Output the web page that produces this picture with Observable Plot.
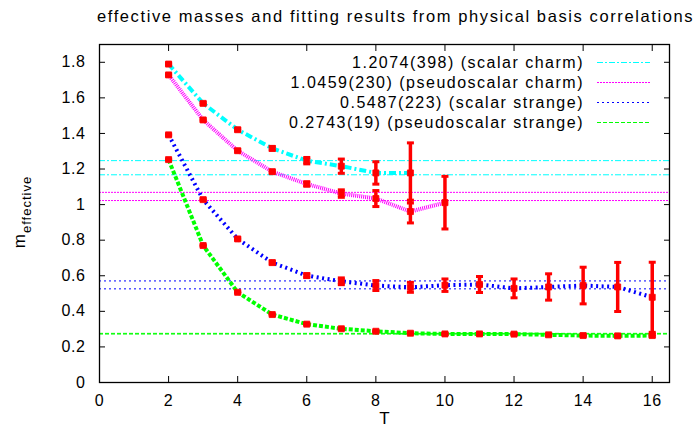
<!DOCTYPE html>
<html>
<head>
<meta charset="utf-8">
<script src="https://cdn.jsdelivr.net/npm/d3@7"></script>
<script src="https://cdn.jsdelivr.net/npm/@observablehq/plot@0.6"></script>
<style>
  html, body { margin: 0; padding: 0; background: white; }
  #chart { width: 694px; height: 435px; }
</style>
</head>
<body>
<div id="chart"></div>
<script>
// ---- data ----
const titleText = "effective masses and fitting results from physical basis correlations";
const xTicks = [0, 2, 4, 6, 8, 10, 12, 14, 16];
const yTicks = [0, 0.2, 0.4, 0.6, 0.8, 1, 1.2, 1.4, 1.6, 1.8];

const seriesNames = ["scalar charm", "pseudoscalar charm", "scalar strange", "pseudoscalar strange"];
const fitValues = [1.2074, 1.0459, 0.5487, 0.2743];
const fitErrors = [0.0398, 0.0230, 0.0223, 0.0019];
const fitLabels = ["1.2074(398) (scalar charm)", "1.0459(230) (pseudoscalar charm)", "0.5487(223) (scalar strange)", "0.2743(19) (pseudoscalar strange)"];

const scalarCharmT = [2, 3, 4, 5, 6, 7, 8, 9];
const scalarCharmM = [1.790, 1.569, 1.421, 1.316, 1.247, 1.216, 1.178, 1.178];
const scalarCharmE = [0.005, 0.006, 0.007, 0.010, 0.018, 0.040, 0.063, 0.169];

const pseudoCharmT = [2, 3, 4, 5, 6, 7, 8, 9, 10];
const pseudoCharmM = [1.729, 1.476, 1.303, 1.185, 1.116, 1.062, 1.034, 0.961, 1.011];
const pseudoCharmE = [0.005, 0.006, 0.007, 0.008, 0.012, 0.021, 0.045, 0.064, 0.148];

const scalarStrangeT = [2, 3, 4, 5, 6, 7, 8, 9, 10, 11, 12, 13, 14, 15, 16];
const scalarStrangeM = [1.392, 1.028, 0.807, 0.674, 0.601, 0.569, 0.545, 0.535, 0.547, 0.551, 0.529, 0.537, 0.545, 0.537, 0.479];
const scalarStrangeE = [0.004, 0.005, 0.006, 0.008, 0.010, 0.019, 0.028, 0.028, 0.035, 0.045, 0.053, 0.074, 0.103, 0.138, 0.197];

const pseudoStrangeT = [2, 3, 4, 5, 6, 7, 8, 9, 10, 11, 12, 13, 14, 15, 16];
const pseudoStrangeM = [1.253, 0.770, 0.507, 0.382, 0.328, 0.302, 0.288, 0.277, 0.273, 0.273, 0.272, 0.268, 0.264, 0.262, 0.264];
const pseudoStrangeE = [0.003, 0.003, 0.003, 0.003, 0.003, 0.003, 0.003, 0.003, 0.003, 0.003, 0.003, 0.004, 0.004, 0.005, 0.006];

// ---- styles ----
const seriesColors = ["#00ffff", "#ff00ff", "#0000ff", "#00ff00"];
const thickDash = ["7,3,2,3", "1,1", "2,3.5", "4,2"];
const thinDash = ["6,2,2,2", "2,1", "2,3", "4,2"];

// ---- build tables ----
const rawSeries = [
  [scalarCharmT, scalarCharmM, scalarCharmE],
  [pseudoCharmT, pseudoCharmM, pseudoCharmE],
  [scalarStrangeT, scalarStrangeM, scalarStrangeE],
  [pseudoStrangeT, pseudoStrangeM, pseudoStrangeE]
];
const series = rawSeries.map(([T, M, E], i) => T.map((t, j) => ({T: t, m: M[j], e: E[j], s: seriesNames[i]})));
const allPoints = series.flat();
const fitRows = fitValues.map((v, i) => ({lo: v - fitErrors[i], hi: v + fitErrors[i], i}));

const capSymbol = { draw(context) { context.rect(-3.5, -1.5, 7, 3); } };

const marks = [];
// thin fit lines (mean ± error)
fitRows.forEach((f, i) => {
  marks.push(Plot.ruleY([f.lo, f.hi], {stroke: seriesColors[i], strokeWidth: 1, strokeDasharray: thinDash[i]}));
});
// thick connecting lines
series.forEach((pts, i) => {
  marks.push(Plot.line(pts, {x: "T", y: "m", stroke: seriesColors[i], strokeWidth: 4, strokeDasharray: thickDash[i], strokeLinecap: "butt"}));
});
// error bars
marks.push(Plot.ruleX(allPoints, {x: "T", y1: d => d.m - d.e, y2: d => d.m + d.e, stroke: "#ff0000", strokeWidth: 3.5}));
marks.push(Plot.dot(allPoints, {x: "T", y: d => d.m - d.e, symbol: capSymbol, fill: "#ff0000", stroke: "none"}));
marks.push(Plot.dot(allPoints, {x: "T", y: d => d.m + d.e, symbol: capSymbol, fill: "#ff0000", stroke: "none"}));
// points
marks.push(Plot.dot(allPoints, {x: "T", y: "m", symbol: "square", r: 3.4, fill: "#ff0000", stroke: "#ff0000", strokeWidth: 0.8, strokeLinejoin: "round"}));
// frame and axes
marks.push(Plot.frame({stroke: "black", strokeWidth: 1.3}));
marks.push(Plot.axisX({ticks: xTicks, tickSize: -6, tickPadding: 18, label: null, tickFormat: d3.format("~g")}));
marks.push(Plot.axisX({anchor: "top", ticks: xTicks, tickSize: -6, tickFormat: () => "", label: null}));
marks.push(Plot.axisY({ticks: yTicks, tickSize: -6, tickPadding: 20, label: null, tickFormat: d3.format("~g")}));
marks.push(Plot.axisY({anchor: "right", ticks: yTicks, tickSize: -6, tickFormat: () => "", label: null}));
marks.push(Plot.text(["T"], {frameAnchor: "bottom", lineAnchor: "middle", dy: 36, text: d => d, fontSize: 17}));

const chart = Plot.plot({
  width: 694,
  height: 435,
  marginLeft: 99,
  marginRight: 25,
  marginTop: 44,
  marginBottom: 53,
  style: {fontFamily: "'Liberation Sans', Arial, sans-serif", fontSize: "16px", background: "white", color: "black", overflow: "visible"},
  x: {domain: [0, 16.5]},
  y: {domain: [0, 1.9]},
  marks
});

const svg = d3.select(chart);
svg.selectAll("[aria-label='x-axis tick label'] text, [aria-label='y-axis tick label'] text").style("letter-spacing", "0.6px");
// title
svg.append("text")
  .attr("x", 97).attr("y", 22)
  .attr("font-size", 16.5)
  .style("letter-spacing", "1.6px")
  .attr("fill", "black")
  .attr("text-anchor", "start")
  .text(titleText);
// y label with subscript
const yl = svg.append("text")
  .attr("transform", "translate(25,212) rotate(-90)")
  .attr("text-anchor", "middle")
  .attr("font-size", 17)
  .style("letter-spacing", "1px")
  .attr("fill", "black");
yl.append("tspan").text("m");
yl.append("tspan").attr("dy", 6).attr("font-size", 13).text("effective");
// legend
const lg = svg.append("g");
fitLabels.forEach((lab, i) => {
  const y = 62.5 + 20 * i;
  lg.append("text").attr("x", 584).attr("y", y).attr("dy", "0.35em")
    .attr("text-anchor", "end").attr("font-size", 16).style("letter-spacing", "1.5px")
    .attr("fill", "black").text(lab);
  lg.append("line").attr("x1", 597).attr("x2", 650).attr("y1", y).attr("y2", y)
    .attr("stroke", seriesColors[i]).attr("stroke-width", 1).attr("stroke-dasharray", thinDash[i]);
});

document.getElementById("chart").appendChild(chart);
</script>
</body>
</html>
